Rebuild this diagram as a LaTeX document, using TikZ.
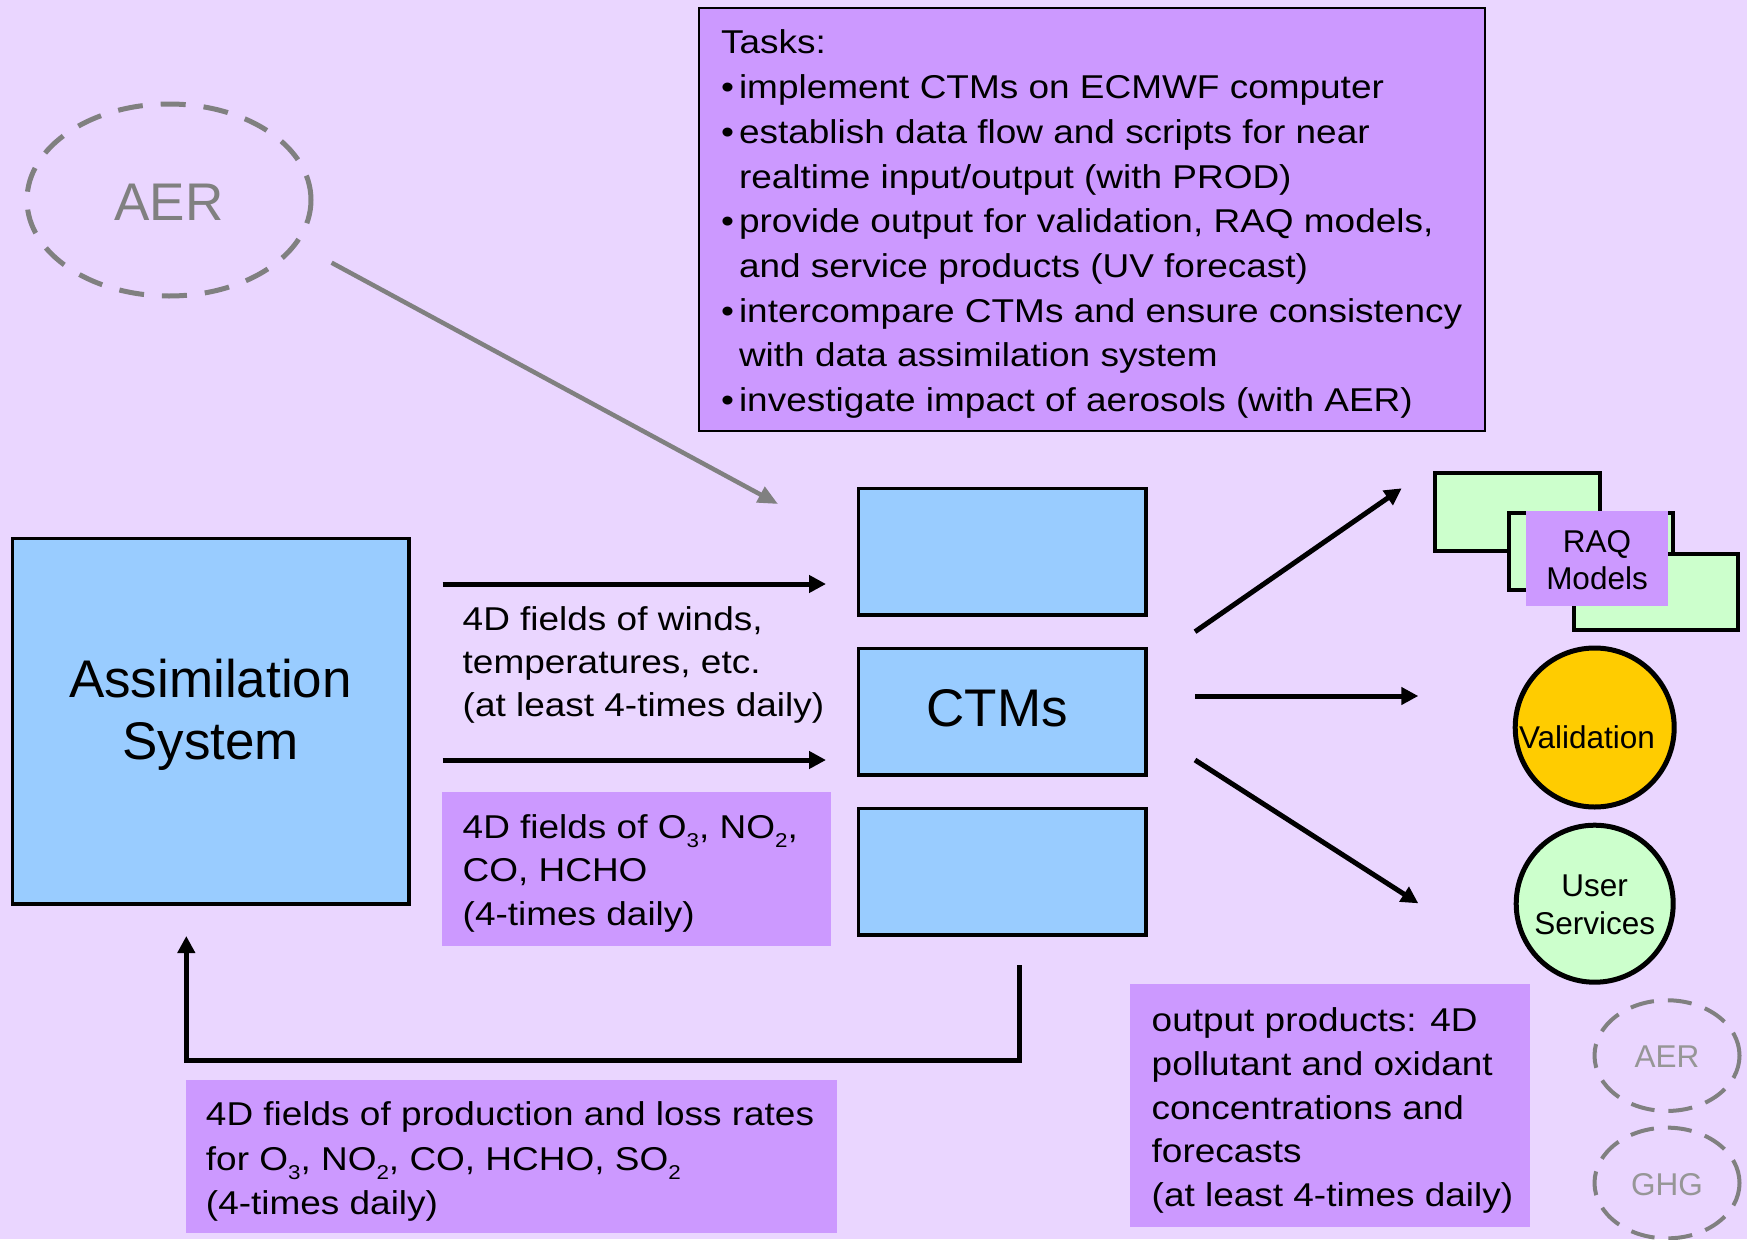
\documentclass[tikz,border=0pt]{standalone}
\usepackage{fontspec}
\setmainfont{Liberation Sans}
\newfontfamily\widefont{Liberation Sans}[FakeStretch=1.12]
\usetikzlibrary{arrows.meta,shapes.geometric}
\definecolor{bgc}{RGB}{234,214,255}
\definecolor{lilac}{RGB}{204,153,255}
\definecolor{skyb}{RGB}{153,204,255}
\definecolor{mint}{RGB}{204,255,204}
\definecolor{gold}{RGB}{255,204,0}
\definecolor{greyline}{RGB}{128,128,128}
\definecolor{greytext}{RGB}{150,150,150}
\newcommand\chsub[1]{\raisebox{-9pt}{\fontsize{20}{20}\selectfont #1}}
\newcommand\txtrows[2]{\begin{tabular}[t]{@{}#1@{}}#2\end{tabular}}
\begin{document}
\begin{tikzpicture}[x=1pt,y=-1pt,
  every node/.style={inner sep=0pt,outer sep=0pt},
  bigtext/.style={font=\fontsize{53}{62}\selectfont},
  smalltext/.style={font=\fontsize{31.5}{37.7}\selectfont},
  bluebox/.style={rectangle,draw=black,line width=3.5pt,fill=skyb},
  lilacbox/.style={rectangle,fill=lilac},
  greenbox/.style={rectangle,draw=black,line width=4pt,fill=mint,minimum width=164pt,minimum height=77pt},
  roundnode/.style={circle,draw=black,line width=5pt},
  dashell/.style={ellipse,draw=greyline},
  arr/.style={draw=black,line width=5pt,-{Triangle[length=17pt,width=17pt]}},
  greyarr/.style={draw=greyline,line width=4.5pt,-{Triangle[length=20pt,width=17pt]}},
]
\clip (0,0) rectangle (1747,1239);
\fill[bgc] (0,0) rectangle (1747,1239);

% Tasks box
\node[rectangle,draw=black,line width=2pt,fill=lilac,
      font=\widefont\fontsize{33}{44.7}\selectfont,
      minimum width=786.3pt,minimum height=422.4pt,
      text height=0pt,text depth=331pt] (tasks) at (1091.9,219.5)
 {\makebox[786.3pt][l]{\hspace{22.3pt}\txtrows{l}{Tasks:\\
  \makebox[18pt][l]{•}implement CTMs on ECMWF computer\\
  \makebox[18pt][l]{•}establish data flow and scripts for near\\
  \hspace{18pt}realtime input/output (with PROD)\\
  \makebox[18pt][l]{•}provide output for validation, RAQ models,\\
  \hspace{18pt}and service products (UV forecast)\\
  \makebox[18pt][l]{•}intercompare CTMs and ensure consistency\\
  \hspace{18pt}with data assimilation system\\
  \makebox[18pt][l]{•}investigate impact of aerosols (with AER)}}};

% AER (big)
\node[dashell,line width=5pt,dash pattern=on 25pt off 18pt,
      minimum width=284pt,minimum height=192pt,bigtext,text=greyline,
      text height=40pt,text depth=0pt] (aerbig) at (169,200) {AER};
\coordinate (gA) at (331.6,262.7);
\coordinate (gB) at (778,504);
\draw[greyarr] (gA) -- (gB);

% Assimilation
\node[bluebox,minimum width=396.5pt,minimum height=365.3pt,bigtext,
      text height=0pt,text depth=48.6pt] (assim) at (210.5,721.3)
 {\txtrows{c}{Assimilation\\System}};

% winds text
\node[anchor=base west,font=\widefont\fontsize{33}{43.4}\selectfont] (winds) at (462.7,630)
 {\txtrows{l}{4D fields of winds,\\temperatures, etc.\\(at least 4-times daily)}};

\coordinate (wA1) at (442.7,584);
\coordinate (wA2) at (826,584);
\coordinate (wB1) at (442.7,760);
\coordinate (wB2) at (826,760);
\draw[arr] (wA1) -- (wA2);
\draw[arr] (wB1) -- (wB2);

% O3 box
\node[lilacbox,font=\widefont\fontsize{33}{43.4}\selectfont,
      minimum width=389pt,minimum height=154pt,
      text height=0pt,text depth=61.4pt] (o3box) at (636.5,869)
 {\makebox[389pt][l]{\hspace{20.7pt}\txtrows{l}{4D fields of O\chsub{3}, NO\chsub{2},\\CO, HCHO\\(4-times daily)}}};

% CTM boxes
\node[bluebox,minimum width=287.5pt,minimum height=126.5pt] (ctmA) at (1002.2,551.7) {};
\node[bluebox,minimum width=287.5pt,minimum height=126.5pt,bigtext,
      text height=28.6pt,text depth=0pt] (ctmB) at (1002.2,711.7) {\hspace{-10pt}CTMs};
\node[bluebox,minimum width=287.5pt,minimum height=126.5pt] (ctmC) at (1002.2,871.7) {};

% feedback arrow
\coordinate (fbA) at (1019,965);
\coordinate (fbL) at (186.3,1060.3);
\coordinate (fbB) at (186.3,936);
\draw[arr,line join=miter] (fbA) |- (fbL) -- (fbB);

% production box
\node[lilacbox,font=\widefont\fontsize{33}{44.6}\selectfont,
      minimum width=651.3pt,minimum height=153.3pt,
      text height=0pt,text depth=62pt] (prodbox) at (511.3,1156.7)
 {\makebox[651.3pt][l]{\hspace{20.3pt}\txtrows{l}{4D fields of production and loss rates\\for O\chsub{3}, NO\chsub{2}, CO, HCHO, SO\chsub{2}\\(4-times daily)}}};

% right arrows
\coordinate (rA1) at (1195,631.7);
\coordinate (rA2) at (1401.7,488.3);
\coordinate (rB1) at (1195,696);
\coordinate (rB2) at (1418.3,696);
\coordinate (rC1) at (1195,760);
\coordinate (rC2) at (1418.3,903.3);
\draw[arr] (rA1) -- (rA2);
\draw[arr] (rB1) -- (rB2);
\draw[arr] (rC1) -- (rC2);

% RAQ models
\node[greenbox,minimum width=165pt,minimum height=78pt] (raqA) at (1517.5,512) {};
\node[greenbox] (raqB) at (1591,551.5) {};
\node[greenbox,minimum height=76pt] (raqC) at (1656,592) {};
\node[lilacbox,smalltext,minimum width=142pt,minimum height=95pt,
      text height=0pt,text depth=13pt] (raq) at (1597,558.5) {\txtrows{c}{RAQ\\Models}};

% Validation / User Services
\node[roundnode,fill=gold,minimum size=159pt,smalltext,
      text height=41.6pt,text depth=0pt] (valid) at (1594.7,727.5) {\hspace{-15.4pt}Validation};
\node[roundnode,fill=mint,minimum size=157pt,smalltext,
      text height=0pt,text depth=14pt] (users) at (1594.7,903.7) {\txtrows{c}{User\\Services}};

% output products
\node[lilacbox,font=\widefont\fontsize{33}{43.75}\selectfont,
      minimum width=400pt,minimum height=242.7pt,
      text height=0pt,text depth=147.2pt] (outbox) at (1330,1105.3)
 {\makebox[400pt][l]{\hspace{21.7pt}\txtrows{l}{output products: 4D\\pollutant and oxidant\\concentrations and\\forecasts\\(at least 4-times daily)}}};

% small AER / GHG
\node[dashell,line width=4pt,dash pattern=on 24pt off 14pt,
      minimum width=145pt,minimum height=110.7pt,smalltext,text=greytext,
      text height=24.2pt,text depth=0pt] (aersmall) at (1667,1055.6) {AER};
\node[dashell,line width=4pt,dash pattern=on 24pt off 14pt,
      minimum width=145pt,minimum height=110.7pt,smalltext,text=greytext,
      text height=25pt,text depth=0pt] (ghg) at (1667,1183) {GHG};
\end{tikzpicture}
\end{document}
